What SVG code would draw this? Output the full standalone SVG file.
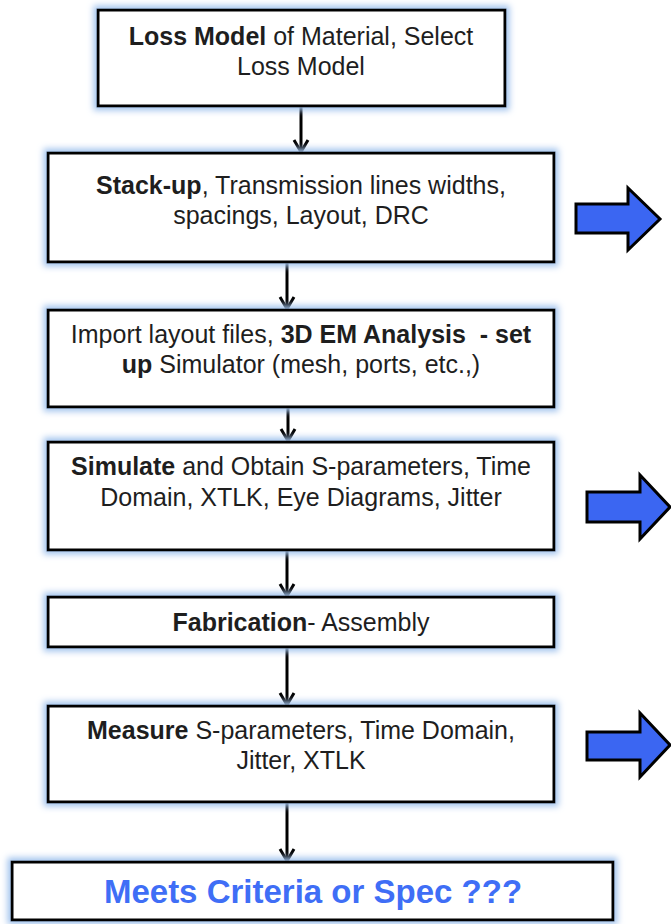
<svg xmlns="http://www.w3.org/2000/svg" width="671" height="924" viewBox="0 0 671 924">
<style>
  .box{fill:#ffffff;stroke:#000000;stroke-width:3;filter:url(#glow)}
  .t{font-family:"Liberation Sans",Arial,sans-serif;font-size:25px;fill:#1e1e1e;text-anchor:middle}
  .b{font-weight:bold}
  .big{font-family:"Liberation Sans",Arial,sans-serif;font-size:33px;font-weight:bold;fill:#3f6ef6;text-anchor:middle}
  .conn{stroke:#000000;stroke-width:3;fill:none;marker-end:url(#v)}
  .blk{fill:#3b66f2;stroke:#000000;stroke-width:3;stroke-linejoin:miter}
</style>
<defs>
  <filter id="glow" x="-10%" y="-30%" width="120%" height="160%">
    <feMorphology in="SourceAlpha" operator="dilate" radius="3" result="d"/>
    <feGaussianBlur in="d" stdDeviation="3" result="bl"/>
    <feFlood flood-color="#a3c4ee"/>
    <feComposite in2="bl" operator="in" result="g"/>
    <feMerge><feMergeNode in="g"/><feMergeNode in="SourceGraphic"/></feMerge>
  </filter>
  <marker id="v" viewBox="-2 -10 16 20" refX="12" refY="0" markerWidth="16" markerHeight="20" markerUnits="userSpaceOnUse" orient="auto">
    <path d="M0,-7 L12,0 L0,7" fill="none" stroke="#000000" stroke-width="3"/>
  </marker>
</defs>
<rect width="671" height="924" fill="#ffffff"/>

<g id="connectors">
  <line class="conn" x1="301" y1="106" x2="301" y2="152"/>
  <line class="conn" x1="287" y1="262" x2="287" y2="309"/>
  <line class="conn" x1="288" y1="407" x2="288" y2="441"/>
  <line class="conn" x1="287" y1="550" x2="287" y2="596"/>
  <line class="conn" x1="287" y1="647" x2="287" y2="705"/>
  <line class="conn" x1="287" y1="802" x2="287" y2="861"/>
</g>

<g id="n1">
  <rect class="box" x="98" y="10" width="407" height="96"/>
  <text class="t" x="301" y="45"><tspan class="b">Loss Model</tspan> of Material, Select</text>
  <text class="t" x="301" y="75">Loss Model</text>
</g>
<g id="n2">
  <rect class="box" x="48" y="153" width="506" height="109"/>
  <text class="t" x="301" y="194"><tspan class="b">Stack-up</tspan>, Transmission lines widths,</text>
  <text class="t" x="301" y="224">spacings, Layout, DRC</text>
</g>
<g id="n3">
  <rect class="box" x="48" y="310" width="506" height="97"/>
  <text class="t" x="301" y="343" xml:space="preserve">Import layout files, <tspan class="b">3D EM Analysis  - set</tspan></text>
  <text class="t" x="301" y="373"><tspan class="b">up</tspan> Simulator (mesh, ports, etc.,)</text>
</g>
<g id="n4">
  <rect class="box" x="48" y="442" width="506" height="108"/>
  <text class="t" x="301" y="475"><tspan class="b">Simulate</tspan> and Obtain S-parameters, Time</text>
  <text class="t" x="301" y="506">Domain, XTLK, Eye Diagrams, Jitter</text>
</g>
<g id="n5">
  <rect class="box" x="48" y="597" width="506" height="50"/>
  <text class="t" x="301" y="631"><tspan class="b">Fabrication</tspan>- Assembly</text>
</g>
<g id="n6">
  <rect class="box" x="48" y="706" width="506" height="96"/>
  <text class="t" x="301" y="739"><tspan class="b">Measure</tspan> S-parameters, Time Domain,</text>
  <text class="t" x="301" y="769">Jitter, XTLK</text>
</g>
<g id="n7">
  <rect class="box" x="12" y="862" width="601" height="58"/>
  <text class="big" x="313" y="903">Meets Criteria or Spec ???</text>
</g>

<g id="arrow1"><path class="blk" d="M576,204 H628 V188 L660,219 L628,250 V233 H576 Z"/></g>
<g id="arrow2"><path class="blk" d="M587,492 H640 V475 L670,507 L640,539 V522 H587 Z"/></g>
<g id="arrow3"><path class="blk" d="M587,732 H640 V713 L670,745 L640,777 V760 H587 Z"/></g>
</svg>
